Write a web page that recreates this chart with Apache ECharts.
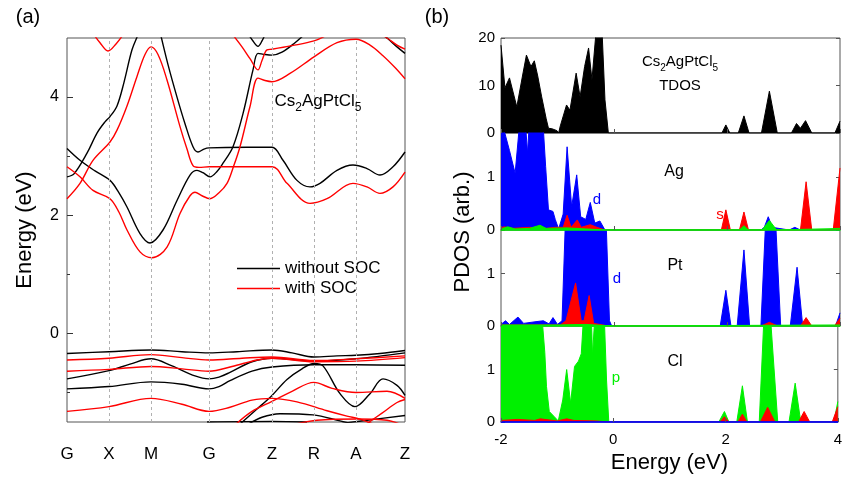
<!DOCTYPE html>
<html>
<head>
<meta charset="utf-8">
<script src="https://cdn.jsdelivr.net/npm/echarts@6/dist/echarts.min.js"></script>
<style>
  html, body { margin: 0; padding: 0; background: #fff; }
  #main { width: 845px; height: 483px; }
</style>
</head>
<body>
<div id="main"></div>
<script>
// k-path (x positions along the path) and their labels
const kPos = [0, 42, 84, 142, 205, 247, 289, 338];
const kLabels = ['G', 'X', 'M', 'G', 'Z', 'R', 'A', 'Z'];

// bands without SOC (black), [k, E]
const bc1 = [[0,3.13],[13,2.93],[28,2.75],[43,2.59],[52,2.38],[60,2.14],[73,1.69],[83,1.53],[96,1.75],[110,2.25],[123,2.68],[130,2.76],[136,2.72],[143,2.65],[150,2.74],[156,2.88],[166,3.16],[176,3.72],[186,4.46],[191,4.74],[198,4.72],[205,4.71],[215,4.76],[228,4.92],[240,5.1]];
const bc2 = [[0,2.65],[7,2.7],[20,3.05],[30,3.39],[38,3.58],[43,3.67],[50,3.85],[57,4.25],[65,4.8],[72,5.1],[84,5.7],[93,5.1],[101,4.55],[110,4.0],[118,3.55],[126,3.16],[131,3.07],[137,3.12],[142,3.14],[180,3.15],[205,3.15],[216,2.93],[230,2.59],[243,2.48],[253,2.54],[270,2.76],[286,2.85],[300,2.79],[313,2.68],[326,2.82],[338,3.07]];
const bcTop1 = [[180,5.1],[186,4.95],[191,4.86],[195,4.95],[199,5.1]];
const bcTop2 = [[312,5.1],[320,5.0],[330,4.85],[338,4.74]];
const bv1 = [[0,-0.34],[42,-0.31],[84,-0.28],[115,-0.31],[142,-0.33],[170,-0.31],[205,-0.28],[225,-0.33],[247,-0.40],[270,-0.38],[289,-0.37],[313,-0.34],[338,-0.29]];
const bv2 = [[0,-0.77],[42,-0.63],[63,-0.52],[84,-0.43],[105,-0.55],[128,-0.72],[142,-0.77],[152,-0.74],[163,-0.66],[185,-0.48],[205,-0.42],[247,-0.47],[289,-0.43],[338,-0.33]];
const bv3 = [[0,-0.94],[42,-0.90],[84,-0.82],[115,-0.86],[142,-0.94],[152,-0.9],[163,-0.8],[185,-0.64],[205,-0.57],[247,-0.53],[289,-0.53],[338,-0.54]];
const bv4 = [[172,-1.55],[190,-1.28],[205,-1.05],[220,-0.78],[235,-0.60],[247,-0.51],[256,-0.55],[273,-1.02],[288,-1.24],[303,-1.02],[316,-0.77],[330,-0.88],[338,-1.05]];
const bv5 = [[180,-1.55],[195,-1.42],[213,-1.36],[246,-1.38],[273,-1.48],[290,-1.55]];
const bv6 = [[265,-1.55],[300,-1.47],[338,-1.39]];
const bv7 = [[140,-1.5],[205,-1.49],[240,-1.5]];

// bands with SOC (red), [k, E]
const rc1 = [[0,2.82],[13,2.65],[26,2.42],[43,2.28],[52,2.05],[60,1.75],[73,1.38],[85,1.28],[100,1.46],[113,2.03],[123,2.33],[128,2.39],[135,2.33],[143,2.28],[152,2.38],[160,2.54],[166,2.8],[173,3.16],[183,3.84],[191,4.32],[198,4.28],[205,4.26],[223,4.4],[247,4.68],[270,4.92],[289,4.98],[303,4.88],[316,4.7],[328,4.5],[338,4.31]];
const rc2 = [[0,2.28],[13,2.54],[26,2.93],[43,3.24],[50,3.44],[60,3.85],[70,4.35],[78,4.72],[84,4.85],[91,4.72],[100,4.29],[113,3.5],[120,3.12],[126,2.84],[132,2.81],[142,2.82],[205,2.82],[220,2.54],[243,2.2],[260,2.28],[286,2.54],[300,2.48],[313,2.37],[326,2.48],[338,2.73]];
const rcV = [[166,5.05],[175,4.85],[183,4.65],[191,4.46],[195,4.62],[200,4.8],[205,4.81],[225,4.87],[247,4.95],[260,5.05]];
const rcX = [[25,5.1],[33,4.92],[41,4.78],[49,4.9],[58,5.1]];
const rcTop = [[310,5.1],[320,5.0],[330,4.88],[338,4.81]];
const rv1 = [[0,-0.45],[42,-0.42],[84,-0.36],[115,-0.41],[142,-0.45],[175,-0.42],[205,-0.40],[247,-0.46],[289,-0.43],[338,-0.38]];
const rv2 = [[0,-0.64],[42,-0.61],[84,-0.56],[115,-0.60],[142,-0.64],[165,-0.56],[190,-0.45],[205,-0.42],[247,-0.48],[289,-0.47],[338,-0.41]];
const rv3 = [[0,-1.32],[42,-1.24],[84,-1.10],[115,-1.2],[142,-1.32],[163,-1.25],[185,-1.13],[205,-1.10],[230,-1.16],[260,-1.31],[280,-1.40],[293,-1.45],[310,-1.56]];
const rv4 = [[168,-1.55],[185,-1.32],[205,-1.15],[225,-0.98],[247,-0.83],[265,-0.93],[289,-1.0],[320,-0.98],[338,-1.10]];
const rv5 = [[298,-1.55],[315,-1.35],[330,-1.17],[338,-1.12]];
const rv6 = [[225,-1.55],[250,-1.47],[290,-1.45],[320,-1.47],[335,-1.55]];

const bandsNoSoc = [bc1, bc2, bcTop1, bcTop2, bv1, bv2, bv3, bv4, bv5, bv6, bv7];
const bandsSoc = [rc1, rc2, rcV, rcX, rcTop, rv1, rv2, rv3, rv4, rv5, rv6];

// DOS, [E (eV), value]
const tdos = [[-2.0,18.5],[-1.93,9.5],[-1.85,11.6],[-1.72,5.5],[-1.62,12],[-1.55,16.4],[-1.47,14],[-1.41,15.2],[-1.35,12],[-1.28,7.6],[-1.2,3],[-1.16,1],[-1.1,0.9],[-1.01,0.5],[-0.98,0],[-0.95,1.5],[-0.84,5.9],[-0.78,4.8],[-0.67,12.6],[-0.60,7.6],[-0.52,14],[-0.45,17.9],[-0.39,11.2],[-0.32,21],[-0.21,21],[-0.16,7],[-0.10,0],[1.91,0],[1.98,1.7],[2.05,0],[2.20,0],[2.30,3.6],[2.39,0],[2.61,0],[2.75,8.8],[2.89,0],[3.14,0],[3.23,2.0],[3.30,1.0],[3.39,2.6],[3.50,0],[3.91,0],[4.0,2.5]];

const agD = [[-2.0,2.0],[-1.95,1.9],[-1.85,1.5],[-1.75,1.07],[-1.68,1.9],[-1.6,2.0],[-1.56,1.9],[-1.53,1.45],[-1.5,2.0],[-1.3,2.0],[-1.25,1.9],[-1.21,1.2],[-1.16,0.38],[-1.08,0.35],[-1.04,0.2],[-0.98,0.02],[-0.9,0.3],[-0.83,1.57],[-0.75,0.44],[-0.66,1.04],[-0.59,0.25],[-0.5,0.2],[-0.42,0.52],[-0.34,0.13],[-0.25,0.17],[-0.16,0],[1.9,0],[2.6,0],[2.66,0.05],[2.73,0.25],[2.8,0.05],[3.1,0],[3.2,0.05],[3.3,0],[4,0]];
const agS = [[-2,0.04],[-1.95,0.06],[-1.8,0.03],[-1.5,0.05],[-1.2,0.03],[-1.05,0.05],[-0.9,0.05],[-0.83,0.28],[-0.76,0.05],[-0.65,0.19],[-0.58,0.05],[-0.42,0.1],[-0.3,0.05],[-0.16,0],[1.9,0],[1.98,0.38],[2.06,0],[2.22,0],[2.30,0.34],[2.38,0],[2.7,0],[2.75,0.05],[2.8,0],[3.3,0],[3.40,0.91],[3.5,0],[3.88,0],[4.0,1.17]];
const agP = [[-2,0.02],[-1.88,0.06],[-1.75,0.02],[-1.5,0.03],[-1.31,0.09],[-1.2,0.03],[-0.83,0.04],[-0.5,0.02],[-0.16,0],[2.22,0],[2.30,0.08],[2.38,0],[2.62,0],[2.75,0.18],[2.88,0],[4,0.03]];

const ptD = [[-2,0.03],[-1.92,0.1],[-1.85,0.03],[-1.7,0.17],[-1.6,0.05],[-1.4,0.08],[-1.25,0.1],[-1.15,0.04],[-1.08,0.16],[-1.0,0.03],[-0.92,0.1],[-0.86,2.0],[-0.14,2.0],[-0.08,0.1],[-0.04,0],[1.88,0],[1.98,0.68],[2.07,0],[2.18,0],[2.30,1.45],[2.40,0],[2.60,0],[2.68,1.9],[2.70,2.0],[2.86,2.0],[2.95,0],[3.12,0],[3.24,1.12],[3.34,0],[3.4,0.05],[3.5,0],[3.92,0],[4.0,0.25]];
const ptS = [[-2,0.02],[-0.95,0.02],[-0.85,0.1],[-0.68,0.82],[-0.58,0.1],[-0.53,0.1],[-0.44,0.58],[-0.36,0.05],[-0.2,0.02],[-0.1,0],[2.6,0],[2.75,0.07],[2.9,0],[3.3,0],[3.4,0.16],[3.5,0],[3.9,0],[4.0,0.15]];
const ptP = [[-2,0.02],[-1,0.02],[-0.5,0.03],[0,0],[4,0.02]];

const clP = [[-2,2.0],[-1.27,2.0],[-1.22,1.33],[-1.19,0.68],[-1.14,0.2],[-1.05,0.1],[-0.98,0.02],[-0.9,0.42],[-0.83,1.0],[-0.76,0.36],[-0.69,1.06],[-0.62,1.16],[-0.57,1.3],[-0.53,2.0],[-0.39,2.0],[-0.37,1.26],[-0.35,1.26],[-0.33,2.0],[-0.16,2.0],[-0.12,0.8],[-0.08,0],[1.88,0],[1.98,0.2],[2.06,0],[2.2,0],[2.30,0.69],[2.39,0],[2.6,0],[2.68,1.9],[2.70,2.0],[2.80,2.0],[2.93,0],[3.13,0],[3.24,0.74],[3.34,0],[3.93,0],[4.0,0.39]];
const clS = [[-2,0.03],[-1.7,0.05],[-1.4,0.03],[-1.3,0.06],[-1,0.02],[-0.83,0.06],[-0.7,0.03],[-0.3,0.02],[-0.1,0],[1.9,0],[1.98,0.1],[2.06,0],[2.22,0],[2.30,0.15],[2.38,0],[2.62,0],[2.75,0.28],[2.88,0],[3.3,0],[3.40,0.2],[3.5,0],[3.9,0],[4.0,0.29]];
const clD = [[-2,0],[4,0]];

const FONT = 'Liberation Sans, Arial, sans-serif';
const BLUE = '#0000ff', RED = '#ff0000', GREEN = '#00f000';

// pdos panels
const panels = [
    {top: 38, height: 95, max: 20, interval: 10, base: '#333'},
    {top: 133, height: 97, max: 1.83, interval: 1, base: GREEN},
    {top: 230, height: 96, max: 1.83, interval: 1, base: GREEN},
    {top: 326, height: 96, max: 1.83, interval: 1, base: BLUE}
];

const chart = echarts.init(document.getElementById('main'));

function bandSeries(data, name, color) {
    return {
        type: 'line', name: name, data: data,
        xAxisIndex: 0, yAxisIndex: 0,
        smooth: 0.35, symbol: 'none', clip: true, silent: true,
        lineStyle: {color: color, width: 1.4},
        itemStyle: {color: color}
    };
}

function areaSeries(data, color, p, z, fill) {
    return {
        type: 'line', data: data,
        xAxisIndex: p + 1, yAxisIndex: p + 2,
        symbol: 'none', clip: true, silent: true, z: z,
        lineStyle: {color: color, width: 1},
        areaStyle: fill === false ? undefined : {color: color, opacity: 1}
    };
}

const series = [];
bandsNoSoc.forEach(b => series.push(bandSeries(b, 'without SOC', '#000')));
bandsSoc.forEach(b => series.push(bandSeries(b, 'with SOC', RED)));
// dashed lines at high-symmetry points
series[0].markLine = {
    silent: true, symbol: ['none', 'none'], label: {show: false},
    lineStyle: {type: [3, 3], color: '#b0b0b0', width: 1},
    data: kPos.slice(1, -1).map(k => ({xAxis: k}))
};

series.push(areaSeries(tdos, '#000', 0, 2));
series.push(areaSeries(agD, BLUE, 1, 2));
series.push(areaSeries(agS, RED, 1, 3));
series.push(areaSeries(agP, GREEN, 1, 4));
series.push(areaSeries(ptD, BLUE, 2, 2));
series.push(areaSeries(ptS, RED, 2, 3));
series.push(areaSeries(ptP, GREEN, 2, 4));
series.push(areaSeries(clP, GREEN, 3, 2));
series.push(areaSeries(clS, RED, 3, 3));
series.push(areaSeries(clD, BLUE, 3, 4, false));

const grids = [{left: 67, top: 38, width: 338, height: 384, show: true, borderColor: '#555', borderWidth: 1}];
panels.forEach(p => grids.push({left: 501, top: p.top, width: 339, height: p.height, show: true, borderColor: '#555', borderWidth: 1}));

const xAxes = [{
    type: 'value', gridIndex: 0, min: 0, max: 338, position: 'bottom',
    axisLine: {show: false, onZero: false}, axisTick: {show: false}, splitLine: {show: false},
    axisLabel: {
        customValues: kPos,
        formatter: v => kLabels[kPos.indexOf(v)] || '',
        fontSize: 17, color: '#000', fontFamily: FONT, margin: 24
    }
}];
panels.forEach((p, i) => {
    const last = i === panels.length - 1;
    xAxes.push({
        type: 'value', gridIndex: i + 1, min: -2, max: 4, interval: 2, z: 10, position: 'bottom',
        axisLine: {show: i > 0, onZero: false, lineStyle: {color: p.base, width: 1.5}},
        axisTick: {show: true, inside: true, length: 4, lineStyle: {color: '#555'}},
        splitLine: {show: false},
        axisLabel: {show: last, fontSize: 15, color: '#000', fontFamily: FONT, margin: 10},
        name: last ? 'Energy (eV)' : '',
        nameLocation: 'middle', nameGap: 30,
        nameTextStyle: {fontSize: 22, color: '#000', fontFamily: FONT}
    });
});

const yAxes = [{
    type: 'value', gridIndex: 0, min: -1.5, max: 5, position: 'left',
    axisLine: {show: false, onZero: false}, splitLine: {show: false},
    axisTick: {show: true, inside: true, length: 6, customValues: [0, 2, 4], lineStyle: {color: '#333'}},
    axisLabel: {customValues: [0, 2, 4], fontSize: 16, color: '#000', fontFamily: FONT, margin: 8},
    name: 'Energy (eV)', nameLocation: 'middle', nameGap: 31,
    nameTextStyle: {fontSize: 22, color: '#000', fontFamily: FONT}
}, {
    type: 'value', gridIndex: 0, min: -1.5, max: 5, position: 'left', offset: 0,
    axisLine: {show: false, onZero: false}, splitLine: {show: false}, axisLabel: {show: false},
    axisTick: {show: true, inside: true, length: 3, customValues: [-1, 1, 3], lineStyle: {color: '#333'}}
}];
panels.forEach((p, i) => {
    yAxes.push({
        type: 'value', gridIndex: i + 1, min: 0, max: p.max, interval: p.interval, position: 'left',
        axisLine: {show: false, onZero: false}, splitLine: {show: false},
        axisTick: {show: true, inside: true, length: 4, lineStyle: {color: '#555'}},
        axisLabel: {showMaxLabel: p.max === 20, fontSize: 15, color: '#000', fontFamily: FONT, margin: 6}
    });
});
panels.forEach((p, i) => {
    yAxes.push({
        type: 'value', gridIndex: i + 1, min: 0, max: p.max, interval: p.interval, position: 'right',
        axisLine: {show: false, onZero: false}, splitLine: {show: false}, axisLabel: {show: false},
        axisTick: {show: true, inside: true, length: 4, lineStyle: {color: '#555'}}
    });
});

function txt(x, y, text, size, color, extra) {
    return Object.assign({
        type: 'text', x: x, y: y, z: 100,
        style: {text: text, fontSize: size, fontFamily: FONT, fill: color || '#000',
            align: 'center', verticalAlign: 'middle', textAlign: 'center', textVerticalAlign: 'middle'}
    }, extra || {});
}

function formula(x, y, size) {
    return {
        type: 'text', x: x, y: y, z: 100,
        style: {
            text: '{a|Cs}{b|2}{a|AgPtCl}{b|5}',
            align: 'center', verticalAlign: 'middle', textAlign: 'center', textVerticalAlign: 'middle',
            rich: {
                a: {fontSize: size, fontFamily: FONT, fill: '#000', lineHeight: size + 8},
                b: {fontSize: size - 5, fontFamily: FONT, fill: '#000', lineHeight: size - 5, verticalAlign: 'bottom'}
            }
        }
    };
}

chart.setOption({
    animation: false,
    backgroundColor: '#fff',
    textStyle: {fontFamily: FONT},
    legend: {
        data: ['without SOC', 'with SOC'],
        left: 232, top: 255, orient: 'vertical', icon: 'rect',
        itemWidth: 43, itemHeight: 1.5, itemGap: 3, selectedMode: false,
        textStyle: {fontSize: 17, color: '#000', fontFamily: FONT}
    },
    grid: grids,
    xAxis: xAxes,
    yAxis: yAxes,
    series: series,
    graphic: [
        txt(28, 17, '(a)', 20),
        txt(437, 17, '(b)', 20),
        formula(318, 101, 17),
        txt(463, 232, 'PDOS (arb.)', 22, '#000', {rotation: Math.PI / 2}),
        formula(680, 62, 15),
        txt(680, 86, 'TDOS', 15),
        txt(674, 172, 'Ag', 16),
        txt(597, 200, 'd', 15, BLUE),
        txt(720, 215, 's', 15, RED),
        txt(675, 266, 'Pt', 16),
        txt(617, 279, 'd', 15, BLUE),
        txt(675, 362, 'Cl', 16),
        txt(616, 378, 'p', 15, GREEN)
    ]
});
</script>
</body>
</html>
